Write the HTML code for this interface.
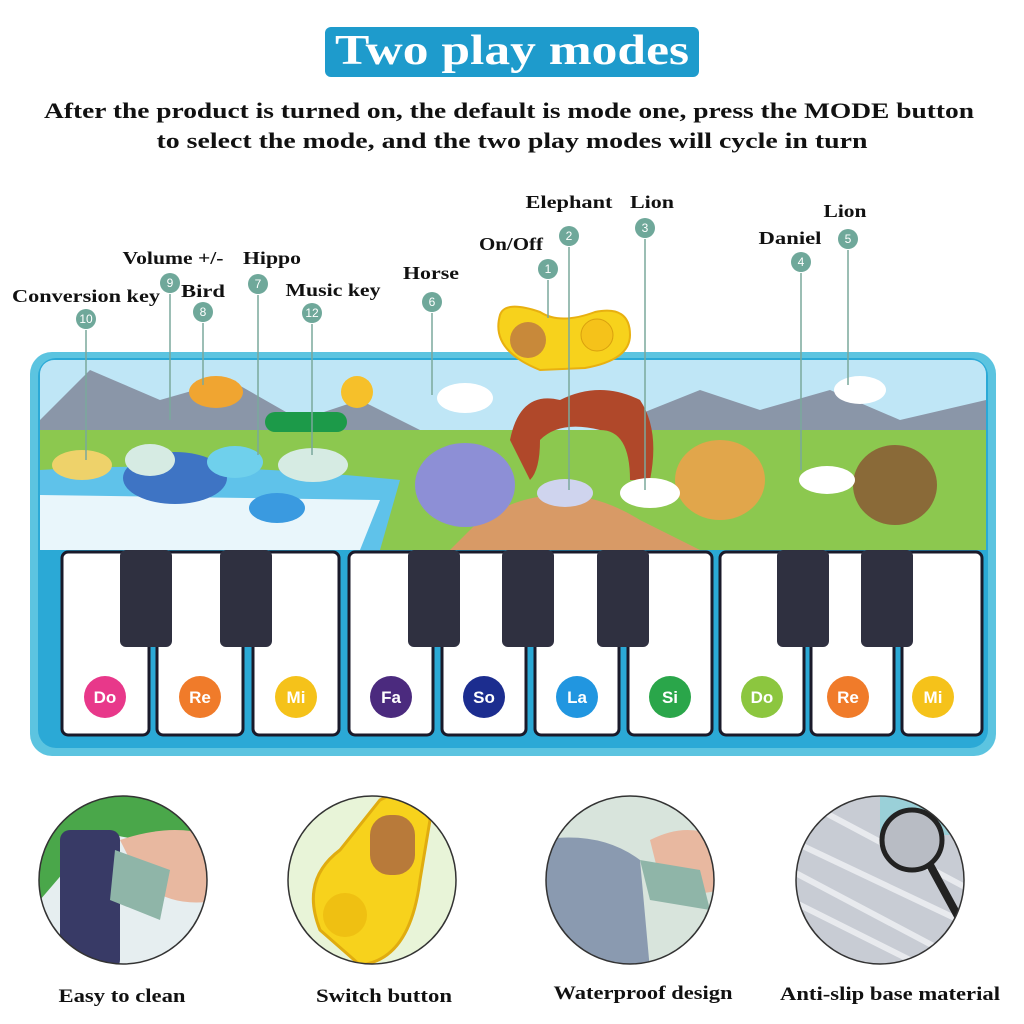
<!DOCTYPE html>
<html><head><meta charset="utf-8"><style>
body{margin:0;background:#fff;}
svg{display:block}
.t{font-family:"Liberation Serif",serif;font-weight:bold;fill:#111;}
</style></head><body>
<svg width="1024" height="1024" viewBox="0 0 1024 1024" xmlns="http://www.w3.org/2000/svg">
<rect x="325" y="27" width="374" height="50" rx="6" fill="#1e9bcc"/>
<text x="512" y="64" text-anchor="middle" font-family="Liberation Serif,serif" font-weight="bold" font-size="42" fill="#fff" textLength="354" lengthAdjust="spacingAndGlyphs">Two play modes</text>
<text class="t" x="509" y="118" text-anchor="middle" font-size="22" textLength="930" lengthAdjust="spacingAndGlyphs">After the product is turned on, the default is mode one, press the MODE button</text>
<text class="t" x="512" y="148" text-anchor="middle" font-size="22" textLength="711" lengthAdjust="spacingAndGlyphs">to select the mode, and the two play modes will cycle in turn</text>

<!-- mat -->
<rect x="30" y="352" width="966" height="404" rx="22" fill="#5cc4e0"/>
<rect x="38" y="358" width="950" height="390" rx="18" fill="#2ba9d6"/>
<rect x="40" y="360" width="946" height="190" rx="14" fill="#bfe6f6"/>
<path d="M40 420 L90 370 L160 400 L230 380 L300 420 L360 400 L420 430 L40 430Z" fill="#8a96a8"/>
<path d="M600 430 L700 390 L760 410 L830 390 L900 420 L986 400 L986 440 L600 440Z" fill="#8a96a8"/>
<path d="M40 430 L986 430 L986 550 L40 550Z" fill="#8cc84f"/>
<path d="M40 470 Q200 460 400 480 L380 550 L40 550Z" fill="#5fc2ea"/>
<path d="M40 495 L380 500 L360 550 L40 550Z" fill="#e9f6fb"/>
<path d="M480 520 Q560 470 640 520 L700 550 L450 550Z" fill="#d89a66"/>
<path d="M510 440 Q520 390 560 400 Q600 380 640 400 Q660 430 650 480 L630 480 Q630 430 600 430 Q560 420 540 440 Q540 470 530 480 Z" fill="#b0482a"/>
<ellipse cx="465" cy="485" rx="50" ry="42" fill="#8d8fd6"/>
<ellipse cx="175" cy="478" rx="52" ry="26" fill="#3e74c4"/>
<ellipse cx="720" cy="480" rx="45" ry="40" fill="#e1a64b"/>
<ellipse cx="895" cy="485" rx="42" ry="40" fill="#8a6a38"/>
<circle cx="357" cy="392" r="16" fill="#f6c02a"/>
<rect x="265" y="412" width="82" height="20" rx="10" fill="#1c9a49"/>
<ellipse cx="82" cy="465" rx="30" ry="15" fill="#eed26a"/>
<ellipse cx="150" cy="460" rx="25" ry="16" fill="#d6ebe3"/>
<ellipse cx="235" cy="462" rx="28" ry="16" fill="#6fd0ec"/>
<ellipse cx="313" cy="465" rx="35" ry="17" fill="#d6ebe3"/>
<ellipse cx="216" cy="392" rx="27" ry="16" fill="#f0a531"/>
<ellipse cx="465" cy="398" rx="28" ry="15" fill="#fff"/>
<ellipse cx="650" cy="493" rx="30" ry="15" fill="#fff"/>
<ellipse cx="565" cy="493" rx="28" ry="14" fill="#cfd4ee"/>
<ellipse cx="827" cy="480" rx="28" ry="14" fill="#fff"/>
<ellipse cx="860" cy="390" rx="26" ry="14" fill="#fff"/>
<ellipse cx="277" cy="508" rx="28" ry="15" fill="#3a9ae0"/>
<path d="M500 315 Q490 350 540 370 L585 368 Q630 360 630 335 Q630 305 595 312 Q560 325 540 312 Q505 300 500 315Z" fill="#f7d21c" stroke="#e8b010" stroke-width="2"/>
<circle cx="528" cy="340" r="18" fill="#c8893a"/>
<circle cx="597" cy="335" r="16" fill="#f5c21a" stroke="#d9a00e"/>

<!-- keys -->
<g fill="#fff" stroke="#1a1a2a" stroke-width="3">
<rect x="62" y="552" width="87" height="183" rx="6"/>
<rect x="157" y="552" width="86" height="183" rx="6"/>
<rect x="253" y="552" width="86" height="183" rx="6"/>
<rect x="349" y="552" width="84" height="183" rx="6"/>
<rect x="442" y="552" width="84" height="183" rx="6"/>
<rect x="535" y="552" width="84" height="183" rx="6"/>
<rect x="628" y="552" width="84" height="183" rx="6"/>
<rect x="720" y="552" width="84" height="183" rx="6"/>
<rect x="811" y="552" width="83" height="183" rx="6"/>
<rect x="902" y="552" width="80" height="183" rx="6"/>
</g>
<g fill="#2f3040">
<rect x="120" y="550" width="52" height="97" rx="6"/>
<rect x="220" y="550" width="52" height="97" rx="6"/>
<rect x="408" y="550" width="52" height="97" rx="6"/>
<rect x="502" y="550" width="52" height="97" rx="6"/>
<rect x="597" y="550" width="52" height="97" rx="6"/>
<rect x="777" y="550" width="52" height="97" rx="6"/>
<rect x="861" y="550" width="52" height="97" rx="6"/>
</g>
<g font-family="Liberation Sans,sans-serif" font-weight="bold" font-size="17" fill="#fff" text-anchor="middle">
<circle cx="105" cy="697" r="21" fill="#e8388a"/><text x="105" y="703">Do</text>
<circle cx="200" cy="697" r="21" fill="#f07b2a"/><text x="200" y="703">Re</text>
<circle cx="296" cy="697" r="21" fill="#f5c21a"/><text x="296" y="703">Mi</text>
<circle cx="391" cy="697" r="21" fill="#4b2a7e"/><text x="391" y="703">Fa</text>
<circle cx="484" cy="697" r="21" fill="#1c2d8f"/><text x="484" y="703">So</text>
<circle cx="577" cy="697" r="21" fill="#2196e0"/><text x="577" y="703">La</text>
<circle cx="670" cy="697" r="21" fill="#2aa64a"/><text x="670" y="703">Si</text>
<circle cx="762" cy="697" r="21" fill="#8cc63f"/><text x="762" y="703">Do</text>
<circle cx="848" cy="697" r="21" fill="#f07b2a"/><text x="848" y="703">Re</text>
<circle cx="933" cy="697" r="21" fill="#f5c21a"/><text x="933" y="703">Mi</text>
</g>

<!-- callouts -->
<g stroke="#7aa89c" stroke-width="1.5">
<line x1="548" y1="280" x2="548" y2="318"/>
<line x1="569" y1="247" x2="569" y2="490"/>
<line x1="645" y1="239" x2="645" y2="490"/>
<line x1="801" y1="273" x2="801" y2="470"/>
<line x1="848" y1="250" x2="848" y2="385"/>
<line x1="432" y1="313" x2="432" y2="395"/>
<line x1="258" y1="295" x2="258" y2="455"/>
<line x1="203" y1="323" x2="203" y2="385"/>
<line x1="170" y1="294" x2="170" y2="420"/>
<line x1="86" y1="330" x2="86" y2="460"/>
<line x1="312" y1="324" x2="312" y2="455"/>
</g>
<g fill="#6fa89a">
<circle cx="548" cy="269" r="10"/><circle cx="569" cy="236" r="10"/><circle cx="645" cy="228" r="10"/>
<circle cx="801" cy="262" r="10"/><circle cx="848" cy="239" r="10"/><circle cx="432" cy="302" r="10"/>
<circle cx="258" cy="284" r="10"/><circle cx="203" cy="312" r="10"/><circle cx="170" cy="283" r="10"/>
<circle cx="86" cy="319" r="10"/><circle cx="312" cy="313" r="10"/>
</g>
<g fill="#fff" font-family="Liberation Sans,sans-serif" font-size="12" text-anchor="middle">
<text x="548" y="273">1</text><text x="569" y="240">2</text><text x="645" y="232">3</text>
<text x="801" y="266">4</text><text x="848" y="243">5</text><text x="432" y="306">6</text>
<text x="258" y="288">7</text><text x="203" y="316">8</text><text x="170" y="287">9</text>
<text x="86" y="323">10</text><text x="312" y="317">12</text>
</g>
<g class="t" font-size="18" text-anchor="middle" lengthAdjust="spacingAndGlyphs">
<text x="511" y="250" textLength="64" lengthAdjust="spacingAndGlyphs">On/Off</text>
<text x="569" y="208" textLength="87" lengthAdjust="spacingAndGlyphs">Elephant</text>
<text x="652" y="208" textLength="44" lengthAdjust="spacingAndGlyphs">Lion</text>
<text x="790" y="244" textLength="63" lengthAdjust="spacingAndGlyphs">Daniel</text>
<text x="845" y="217" textLength="43" lengthAdjust="spacingAndGlyphs">Lion</text>
<text x="431" y="279" textLength="56" lengthAdjust="spacingAndGlyphs">Horse</text>
<text x="272" y="264" textLength="58" lengthAdjust="spacingAndGlyphs">Hippo</text>
<text x="203" y="297" textLength="44" lengthAdjust="spacingAndGlyphs">Bird</text>
<text x="173" y="264" textLength="101" lengthAdjust="spacingAndGlyphs">Volume +/-</text>
<text x="86" y="302" textLength="148" lengthAdjust="spacingAndGlyphs">Conversion key</text>
<text x="333" y="296" textLength="95" lengthAdjust="spacingAndGlyphs">Music key</text>
</g>

<!-- bottom circles -->
<defs>
<clipPath id="c1"><circle cx="123" cy="880" r="84"/></clipPath>
<clipPath id="c2"><circle cx="372" cy="880" r="84"/></clipPath>
<clipPath id="c3"><circle cx="630" cy="880" r="84"/></clipPath>
<clipPath id="c4"><circle cx="880" cy="880" r="84"/></clipPath>
</defs>
<g clip-path="url(#c1)">
<rect x="30" y="790" width="190" height="180" fill="#e6eef0"/>
<path d="M30 790 L220 790 L220 830 Q150 850 100 830 L40 900Z" fill="#4aa74a"/>
<rect x="60" y="830" width="60" height="140" rx="10" fill="#383a66"/>
<path d="M120 840 Q180 820 220 840 L220 900 Q170 910 140 880Z" fill="#e8b8a0"/>
<path d="M115 850 L170 870 L160 920 L110 900Z" fill="#8fb5a8"/>
</g>
<g clip-path="url(#c2)">
<rect x="280" y="790" width="190" height="180" fill="#e8f4d8"/>
<path d="M320 930 Q300 880 340 850 L380 800 Q420 780 430 820 L420 880 Q410 960 360 965Z" fill="#f7d21c" stroke="#e0ac10" stroke-width="3"/>
<rect x="370" y="815" width="45" height="60" rx="20" fill="#b87a3a"/>
<circle cx="345" cy="915" r="22" fill="#efc012"/>
</g>
<g clip-path="url(#c3)">
<rect x="540" y="790" width="190" height="180" fill="#d8e4dc"/>
<path d="M540 840 Q600 830 640 860 L650 970 L540 970Z" fill="#8a9ab0"/>
<path d="M650 840 Q690 820 720 840 L720 890 Q680 900 660 880Z" fill="#e8b8a0"/>
<path d="M640 860 L700 870 L710 910 L650 900Z" fill="#8fb5a8"/>
</g>
<g clip-path="url(#c4)">
<rect x="790" y="790" width="190" height="180" fill="#c8ccd4"/>
<g stroke="#e8eaee" stroke-width="6"><line x1="790" y1="840" x2="980" y2="930"/><line x1="790" y1="870" x2="960" y2="960"/><line x1="790" y1="900" x2="930" y2="970"/><line x1="820" y1="810" x2="980" y2="895"/></g>
<rect x="880" y="790" width="100" height="45" fill="#9ad0d8"/>
<circle cx="912" cy="840" r="30" fill="#b8bcc4" stroke="#222" stroke-width="5"/>
<line x1="930" y1="865" x2="960" y2="920" stroke="#222" stroke-width="8"/>
</g>
<g fill="none" stroke="#333" stroke-width="1.5">
<circle cx="123" cy="880" r="84"/><circle cx="372" cy="880" r="84"/><circle cx="630" cy="880" r="84"/><circle cx="880" cy="880" r="84"/>
</g>
<g class="t" font-size="19" text-anchor="middle">
<text x="122" y="1002" textLength="127" lengthAdjust="spacingAndGlyphs">Easy to clean</text>
<text x="384" y="1002" textLength="136" lengthAdjust="spacingAndGlyphs">Switch button</text>
<text x="643" y="999" textLength="179" lengthAdjust="spacingAndGlyphs">Waterproof design</text>
<text x="890" y="1000" textLength="220" lengthAdjust="spacingAndGlyphs">Anti-slip base material</text>
</g>
</svg>
</body></html>
